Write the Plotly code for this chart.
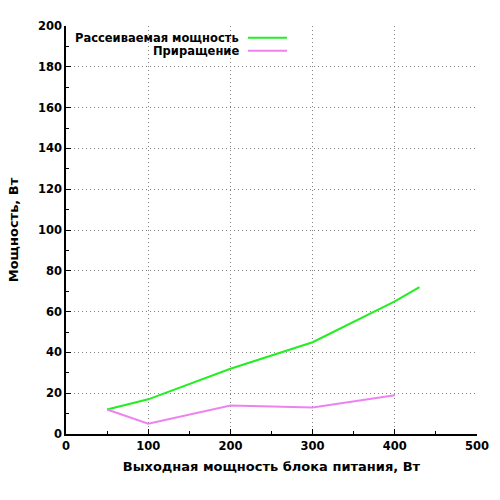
import plotly.graph_objects as go

# data
power_out = [50, 100, 200, 300, 400, 430]
dissipated = [12, 17, 32, 45, 65, 72]
power_out_inc = [50, 100, 200, 300, 400]
increment = [12, 5, 14, 13, 19]

series_names = ["Рассеиваемая мощность", "Приращение"]
series_colors = ["#22ee22", "#ee82ee"]

x_title = "Выходная мощность блока питания, Вт"
y_title = "Мощность, Вт"

FONT = "DejaVu Sans"

fig = go.Figure()
fig.add_trace(go.Scatter(x=power_out, y=dissipated, mode="lines",
                         name=series_names[0],
                         line=dict(color=series_colors[0], width=2)))
fig.add_trace(go.Scatter(x=power_out_inc, y=increment, mode="lines",
                         name=series_names[1],
                         line=dict(color=series_colors[1], width=2)))

# gnuplot-like legend: text right-aligned, sample line to the right
legend_y = [0.9715, 0.9395]
for name, color, ly in zip(series_names, series_colors, legend_y):
    fig.add_annotation(x=(241 - 66) / 411, y=ly, xref="paper", yref="paper",
                       text="<b>%s</b>" % name, showarrow=False,
                       xanchor="right", yanchor="middle",
                       font=dict(family=FONT, size=11.5, color="black"))
    fig.add_shape(type="line", xref="paper", yref="paper",
                  x0=(248 - 66) / 411, x1=(287 - 66) / 411, y0=ly, y1=ly,
                  line=dict(color=color, width=2))

axis_common = dict(
    showline=True, linecolor="black", linewidth=1.5,
    ticks="inside", ticklen=5, tickcolor="black",
    showgrid=True, gridcolor="#808080", griddash="1px,3px", gridwidth=1,
    zeroline=False, mirror=False,
    tickfont=dict(family=FONT, size=11.5, color="black"),
    tickprefix="<b>", ticksuffix="</b>",
)

fig.update_xaxes(range=[0, 500], dtick=100, tick0=0,
                 minor=dict(ticks="inside", ticklen=3, dtick=50, tickcolor="black", showgrid=False),
                 title=dict(text="<b>%s</b>" % x_title, standoff=10,
                            font=dict(family=FONT, size=13, color="black")),
                 **axis_common)
fig.update_yaxes(range=[0, 200], dtick=20, tick0=0,
                 minor=dict(ticks="inside", ticklen=3, dtick=10, tickcolor="black", showgrid=False),
                 title=dict(text="<b>%s</b>" % y_title, standoff=16,
                            font=dict(family=FONT, size=13, color="black")),
                 **axis_common)

fig.update_layout(
    width=500, height=500,
    margin=dict(l=66, r=23, t=26, b=66),
    plot_bgcolor="white", paper_bgcolor="white",
    showlegend=False,
    font=dict(family=FONT, size=11, color="black"),
)

fig.write_html("out.html", config={"displayModeBar": False},
               post_script="document.body.style.margin='0';")
